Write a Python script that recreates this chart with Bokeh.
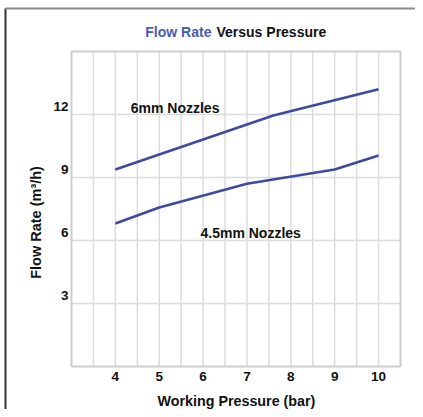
from bokeh.plotting import figure
from bokeh.models import Range1d, Label
from bokeh.embed import file_html
from bokeh.resources import INLINE

# Data
pressure_6mm = [4, 7.6, 10]
flow_6mm = [9.38, 11.95, 13.2]
pressure_45mm = [4, 5, 7, 9, 10]
flow_45mm = [6.81, 7.57, 8.7, 9.38, 10.05]
x_ticks = [4, 5, 6, 7, 8, 9, 10]
x_tick_labels = ["4", "5", "6", "7", "8", "9", "10"]
x_grid = [3.5, 4, 4.5, 5, 5.5, 6, 6.5, 7, 7.5, 8, 8.5, 9, 9.5, 10]
y_ticks = [3, 6, 9, 12]
y_tick_labels = ["3", "6", "9", "12"]
x_lo, x_hi = 3, 10.5
y_lo, y_hi = 0, 15

LINE = "#3d4b9e"
BLUE_T = "#4a5cae"
FONT = "Liberation Sans"
PX_X = 329 / (x_hi - x_lo)   # pixels per bar
PX_Y = 315 / (y_hi - y_lo)   # pixels per m3/h
X0, X1 = x_lo - 71 / PX_X, x_lo + 344 / PX_X
Y0, Y1 = y_lo - 43 / PX_Y, y_lo + 366 / PX_Y

# the whole canvas is the plotting frame; the chart box sits inside it
p = figure(width=415, height=409, output_backend="svg", toolbar_location=None,
           x_range=Range1d(X0, X1), y_range=Range1d(Y0, Y1),
           x_axis_location=None, y_axis_location=None,
           min_border=0, background_fill_color="white", border_fill_color="white")
p.outline_line_color = None
for g in p.grid:
    g.visible = False

GRID = "#dcdcdc"
# vertical grid lines (every half bar) and horizontal grid lines (tick values)
p.segment(x0=x_grid, y0=[y_lo] * len(x_grid), x1=x_grid, y1=[y_hi] * len(x_grid),
          line_color=GRID, line_width=1.5)
p.segment(x0=[x_lo] * len(y_ticks), y0=y_ticks, x1=[x_hi] * len(y_ticks), y1=y_ticks,
          line_color=GRID, line_width=1.5)
# chart box
p.rect(x=(x_lo + x_hi) / 2, y=(y_lo + y_hi) / 2, width=x_hi - x_lo, height=y_hi - y_lo,
       fill_color=None, line_color="#cdcdcd", line_width=2)
# outer picture frame (left and top edges)
left_edge = x_lo - 66 / PX_X
top_edge = y_lo + 358 / PX_Y
p.segment(x0=[left_edge], y0=[Y0], x1=[left_edge], y1=[top_edge], line_color="#333333", line_width=2)
p.segment(x0=[left_edge], y0=[top_edge], x1=[X1], y1=[top_edge], line_color="#8a8a8a", line_width=2)

p.line(pressure_6mm, flow_6mm, line_color=LINE, line_width=2.6)
p.line(pressure_45mm, flow_45mm, line_color=LINE, line_width=2.6)

def lab(x, y, text, color="#111111", align="center", angle=0, size="14px"):
    p.add_layout(Label(x=x, y=y, text=text, text_color=color, text_align=align,
                       text_baseline="middle", text_font=FONT, text_font_style="bold",
                       text_font_size=size, angle=angle))

for t, s in zip(x_ticks, x_tick_labels):
    lab(t, y_lo - 10 / PX_Y, s, size="13.5px")
for t, s in zip(y_ticks, y_tick_labels):
    lab(x_lo - 3 / PX_X, t + 8 / PX_Y, s, align="right", size="13.5px")

lab(4.35, 12.33, "6mm Nozzles", align="left")
lab(5.94, 6.38, "4.5mm Nozzles", align="left")
lab(6.19, 15.95, "Flow Rate", color=BLUE_T, align="right", size="14px")
lab(6.305, 15.95, "Versus Pressure", align="left", size="14px")
lab(6.76, -1.62, "Working Pressure (bar)", size="14.3px")
lab(2.2, 6.86, "Flow Rate (m³/h)", angle=1.5708, size="14.5px")

open("out.html", "w").write(file_html(p, INLINE))
